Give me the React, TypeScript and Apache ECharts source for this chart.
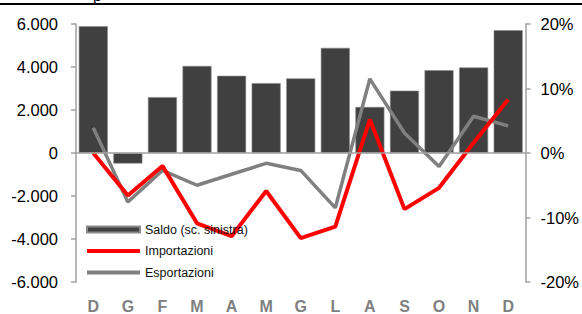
import React, { useEffect, useRef } from "react";
import * as echarts from "echarts";

const categories = ["D", "G", "F", "M", "A", "M", "G", "L", "A", "S", "O", "N", "D"];
const saldo = [5900, -490, 2600, 4050, 3590, 3250, 3470, 4890, 2140, 2900, 3850, 3980, 5710];
const importazioni = [0, -6.6, -2.0, -10.9, -12.9, -5.9, -13.2, -11.4, 5.2, -8.7, -5.4, 1.6, 8.3];
const esportazioni = [3.9, -7.6, -2.7, -5.0, -3.3, -1.6, -2.7, -8.5, 11.5, 3.1, -2.1, 5.7, 4.2];

const FONT = "'Liberation Sans', Arial, sans-serif";

function fmtThousands(v: number): string {
  const s = Math.abs(v).toFixed(0).replace(/\B(?=(\d{3})+(?!\d))/g, ".");
  return (v < 0 ? "-" : "") + s;
}

export default function App() {
  const ref = useRef<HTMLDivElement>(null);
  useEffect(() => {
    if (!ref.current) return;
    const chart = echarts.init(ref.current, undefined, { renderer: "svg" });
    chart.setOption({
      animation: false,
      backgroundColor: "#ffffff",
      grid: { left: 76, right: 44, top: 24, bottom: 31, containLabel: false },
      legend: {
        orient: "vertical",
        left: 86,
        top: 223,
        padding: 0,
        itemWidth: 53,
        itemHeight: 6,
        itemGap: 8.5,
        symbolKeepAspect: true,
        textStyle: { fontFamily: FONT, fontSize: 12.5, color: "#111111" },
        data: [
          { name: "Saldo (sc. sinistra)", icon: "path://M0,0H53V6H0Z" },
          { name: "Importazioni", icon: "path://M0,0H53V4H0Z" },
          { name: "Esportazioni", icon: "path://M0,0H53V4H0Z" },
        ],
      },
      graphic: [
        { type: "line", shape: { x1: 0, y1: 4, x2: 582, y2: 4 }, style: { stroke: "#000000", lineWidth: 2 } },
        {
          type: "text",
          x: 93,
          y: 3,
          style: { text: "p", fontFamily: FONT, fontSize: 16, fill: "#000", textVerticalAlign: "bottom" },
        },
      ],
      xAxis: {
        type: "category",
        data: categories,
        axisLine: { show: false, onZero: false },
        axisTick: { show: false },
        axisLabel: {
          margin: 16,
          fontFamily: FONT,
          fontSize: 16,
          fontWeight: "bold",
          color: "#808080",
        },
      },
      yAxis: [
        {
          type: "value",
          min: -6000,
          max: 6000,
          interval: 2000,
          axisLine: { show: true, lineStyle: { color: "#a0a0a0", width: 1.5 } },
          axisTick: { show: true, length: 5, lineStyle: { color: "#a0a0a0", width: 1.5 } },
          splitLine: { show: false },
          axisLabel: {
            margin: 18,
            fontFamily: FONT,
            fontSize: 16.5,
            color: "#000000",
            formatter: (v: number) => fmtThousands(v),
          },
        },
        {
          type: "value",
          min: -20,
          max: 20,
          interval: 10,
          position: "right",
          axisLine: { show: true, lineStyle: { color: "#a0a0a0", width: 1.5 } },
          axisTick: { show: true, length: 5, lineStyle: { color: "#a0a0a0", width: 1.5 } },
          splitLine: { show: false },
          axisLabel: {
            margin: 15,
            fontFamily: FONT,
            fontSize: 16.5,
            color: "#000000",
            formatter: (v: number) => v + "%",
          },
        },
      ],
      series: [
        {
          name: "Saldo (sc. sinistra)",
          type: "bar",
          yAxisIndex: 0,
          data: saldo,
          barWidth: 29,
          itemStyle: { color: "#404040", borderColor: "#8a8a8a", borderWidth: 0.6 },
          markLine: {
            silent: true,
            symbol: "none",
            label: { show: false },
            lineStyle: { color: "#a0a0a0", width: 1.5, type: "solid" },
            data: [{ yAxis: 0 }],
          },
          z: 1,
        },
        {
          name: "Importazioni",
          type: "line",
          yAxisIndex: 1,
          data: importazioni,
          symbol: "none",
          lineStyle: { color: "#ff0000", width: 4 },
          itemStyle: { color: "#ff0000" },
          z: 3,
        },
        {
          name: "Esportazioni",
          type: "line",
          yAxisIndex: 1,
          data: esportazioni,
          symbol: "none",
          lineStyle: { color: "#808080", width: 3.5 },
          itemStyle: { color: "#808080" },
          z: 2,
        },
      ],
    });
    return () => chart.dispose();
  }, []);
  return <div ref={ref} style={{ width: 582, height: 314, position: "absolute", left: 0, top: 0 }} />;
}
